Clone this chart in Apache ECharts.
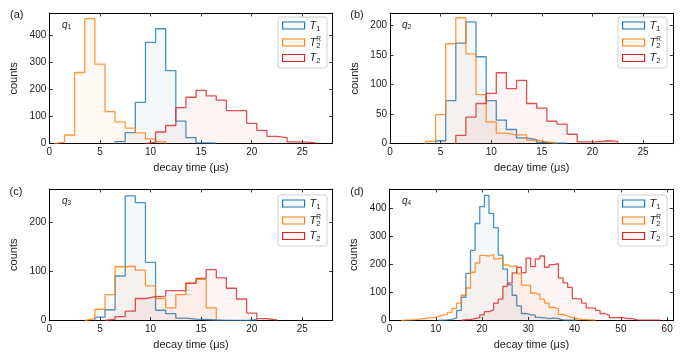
<!DOCTYPE html>
<html><head><meta charset="utf-8">
<script src="https://cdn.jsdelivr.net/npm/echarts@6/dist/echarts.min.js"></script>
<style>html,body{margin:0;padding:0;background:#fff}#c{width:686px;height:362px}</style>
</head><body><div id="c"></div>
<script>
// ---- data: unit-width bins, first bin centre + counts ----
const A_T1_FIRST = 7;   const A_T1  = [8, 41, 152, 373, 423, 269, 83, 22, 3, 2];
const A_T2R_FIRST = 1;  const A_T2R = [6, 32, 262, 460, 293, 118, 80, 57, 40, 18, 7];
const A_T2_FIRST = 10;  const A_T2  = [6, 43, 67, 133, 171, 196, 176, 160, 122, 122, 75, 49, 27, 22, 7, 6, 2];

const B_T1_FIRST = 5;   const B_T1  = [5, 73, 170, 206, 147, 73, 40, 24, 10, 7, 2, 1, 1];
const B_T2R_FIRST = 4;  const B_T2R = [4, 49, 169, 213, 152, 83, 37, 18, 15, 15, 6, 3, 1];
const B_T2_FIRST = 7;   const B_T2  = [14, 45, 68, 85, 120, 93, 107, 68, 60, 38, 33, 16, 3, 3, 5, 4];

const C_T1_FIRST = 5;   const C_T1  = [7, 22, 91, 255, 241, 119, 21, 14, 5, 3, 2, 1, 0, 0, 0, 2];
const C_T2R_FIRST = 4;  const C_T2R = [4, 23, 53, 110, 111, 103, 71, 45, 26, 53, 77, 84, 26];
const C_T2_FIRST = 6;   const C_T2  = [3, 8, 19, 45, 49, 50, 61, 61, 76, 86, 104, 87, 66, 44, 15, 4, 1];

const D_T1_FIRST = 11;  const D_T1  = [1, 2, 4, 9, 36, 83, 168, 250, 346, 406, 446, 382, 331, 233, 183, 128, 90, 52, 25, 21, 19, 11, 9, 7, 9, 7, 2, 1, 1, 1];
const D_T2R_FIRST = 3;  const D_T2R = [1, 2, 3, 5, 7, 9, 10, 14, 19, 21, 29, 43, 62, 90, 116, 172, 205, 232, 230, 236, 220, 222, 198, 192, 196, 166, 126, 125, 98, 92, 76, 62, 47, 42, 22, 16, 10, 7, 4, 3, 2, 1];
const D_T2_FIRST = 16;  const D_T2  = [3, 4, 7, 10, 20, 32, 38, 62, 76, 122, 134, 170, 190, 171, 222, 192, 220, 230, 190, 199, 203, 152, 134, 118, 78, 76, 62, 45, 44, 36, 25, 19, 10, 10, 10, 7, 7, 2, 1, 1, 1, 1, 1];

const PANEL_LETTERS = ['(a)', '(b)', '(c)', '(d)'];
const QUBITS = ['1', '2', '3', '4'];
const X_MAX = [28, 28, 28, 61.3];
const X_INTERVAL = [5, 5, 5, 10];
const Y_MAX = [481, 221, 269, 469];
const Y_INTERVAL = [100, 50, 100, 100];
const SERIES_NAMES = ['T1', 'T2R', 'T2'];
const X_NAME = 'decay time (μs)';
const Y_NAME = 'counts';

const PANEL_DATA = [
  [[A_T1_FIRST, A_T1], [A_T2R_FIRST, A_T2R], [A_T2_FIRST, A_T2]],
  [[B_T1_FIRST, B_T1], [B_T2R_FIRST, B_T2R], [B_T2_FIRST, B_T2]],
  [[C_T1_FIRST, C_T1], [C_T2R_FIRST, C_T2R], [C_T2_FIRST, C_T2]],
  [[D_T1_FIRST, D_T1], [D_T2R_FIRST, D_T2R], [D_T2_FIRST, D_T2]]
];

// ---- styling / layout ----
const FONT = 'Liberation Sans, Arial, sans-serif';
const COLORS = ['#1f77b4', '#ff7f0e', '#d62728'];
const FILLS = ['rgba(31,119,180,0.05)', 'rgba(255,127,14,0.05)', 'rgba(214,39,40,0.05)'];
const GRIDS = [
  {left: 49.3, top: 13, width: 283.4, height: 130.7},
  {left: 390, top: 13, width: 283.4, height: 130.7},
  {left: 49.3, top: 189, width: 283.4, height: 131.5},
  {left: 389.5, top: 189, width: 283.7, height: 131.5}
];
const LEGEND_POS = [{right: 359, top: 17}, {right: 19, top: 17}, {right: 359, top: 195}, {right: 19, top: 195}];
const LETTER_POS = [[10, 9], [350.3, 9], [9.5, 186.5], [350.3, 186.5]];
const Q_POS = [[62, 20], [402, 20], [62, 196], [402, 196]];

function histPoints(first, counts) {
  const pts = [[first - 0.5, 0]];
  counts.forEach((c, i) => {
    const lo = first + i - 0.5;
    pts.push([lo, c], [lo + 1, c]);
  });
  pts.push([first + counts.length - 0.5, 0]);
  return pts;
}

const rich = {
  i: {fontStyle: 'italic', fontSize: 11, fontFamily: FONT, color: '#222', lineHeight: 14},
  b: {fontSize: 7.5, fontFamily: FONT, color: '#222', lineHeight: 8, verticalAlign: 'bottom'},
  c: {fontSize: 7.5, fontFamily: FONT, color: '#222', lineHeight: 8, verticalAlign: 'bottom', width: 0},
  d: {fontSize: 6.5, fontFamily: FONT, color: '#222', lineHeight: 7, verticalAlign: 'top'}
};
function legendFmt(n) {
  if (n === 'T1') return '{i|T}{b|1}';
  if (n === 'T2R') return '{i|T}{c|2}{d|R}';
  return '{i|T}{b|2}';
}

const xAxis = [], yAxis = [], series = [], legend = [], graphic = [];
GRIDS.forEach((g, k) => {
  const common = {
    min: 0, axisLine: {show: true, onZero: false, lineStyle: {color: '#000', width: 1}},
    axisTick: {show: true, inside: true, length: 3.5, lineStyle: {color: '#000', width: 0.8}},
    splitLine: {show: false}, gridIndex: k
  };
  const xi = X_INTERVAL[k], yi = Y_INTERVAL[k];
  xAxis.push(Object.assign({}, common, {
    type: 'value', position: 'bottom', max: X_MAX[k], interval: xi,
    name: X_NAME, nameLocation: 'middle', nameGap: 19,
    nameTextStyle: {fontFamily: FONT, fontSize: 11, color: '#222'},
    axisLabel: {fontFamily: FONT, fontSize: 10, color: '#222', margin: 4, showMaxLabel: false,
      formatter: v => (Math.abs(v / xi - Math.round(v / xi)) < 1e-6 ? String(v) : '')}
  }));
  xAxis.push(Object.assign({}, common, {
    type: 'value', position: 'top', max: X_MAX[k], interval: xi, axisLabel: {show: false}
  }));
  yAxis.push(Object.assign({}, common, {
    type: 'value', position: 'left', max: Y_MAX[k], interval: yi,
    name: Y_NAME, nameLocation: 'middle', nameGap: 30,
    nameTextStyle: {fontFamily: FONT, fontSize: 11, color: '#222'},
    axisLabel: {fontFamily: FONT, fontSize: 10, color: '#222', margin: 3, showMaxLabel: false,
      formatter: v => (Math.abs(v / yi - Math.round(v / yi)) < 1e-6 ? String(v) : '')}
  }));
  yAxis.push(Object.assign({}, common, {
    type: 'value', position: 'right', max: Y_MAX[k], interval: yi, axisLabel: {show: false}
  }));
  PANEL_DATA[k].forEach((d, s) => {
    series.push({
      type: 'line', name: SERIES_NAMES[s], xAxisIndex: 2 * k, yAxisIndex: 2 * k,
      data: histPoints(d[0], d[1]), symbol: 'none', showSymbol: false, animation: false,
      lineStyle: {color: COLORS[s], width: 1.3, opacity: 0.8},
      itemStyle: {color: COLORS[s]},
      areaStyle: {color: COLORS[s], opacity: 0.05},
      z: 2 + s
    });
  });
  legend.push({
    orient: 'vertical', right: LEGEND_POS[k].right, top: LEGEND_POS[k].top,
    itemWidth: 22, itemHeight: 7, itemGap: 3, padding: [3, 6, 3, 4],
    borderColor: '#d0d0d0', borderWidth: 1, borderRadius: 2.5, backgroundColor: 'rgba(255,255,255,0.85)',
    selectedMode: false, icon: 'rect',
    data: SERIES_NAMES.map((n, s) => ({name: n, icon: 'rect',
      itemStyle: {color: FILLS[s], borderColor: COLORS[s], borderWidth: 1.2, opacity: 1}})),
    formatter: legendFmt,
    textStyle: {fontFamily: FONT, fontSize: 11, color: '#222', rich: rich}
  });
  graphic.push({type: 'text', left: LETTER_POS[k][0], top: LETTER_POS[k][1],
    style: {text: PANEL_LETTERS[k], font: '11px ' + FONT, fill: '#222'}});
  graphic.push({type: 'text', left: Q_POS[k][0], top: Q_POS[k][1],
    style: {text: '{q|q}{s|' + QUBITS[k] + '}', rich: {
      q: {fontStyle: 'italic', fontSize: 10, fontFamily: FONT, fill: '#222', lineHeight: 12},
      s: {fontSize: 6.5, fontFamily: FONT, fill: '#222', lineHeight: 7, verticalAlign: 'bottom'}
    }}});
});

const chart = echarts.init(document.getElementById('c'), null, {renderer: 'canvas'});
chart.setOption({
  animation: false, backgroundColor: '#fff',
  grid: GRIDS.map(g => Object.assign({containLabel: false}, g)),
  xAxis, yAxis, series, legend, graphic
});
</script></body></html>
